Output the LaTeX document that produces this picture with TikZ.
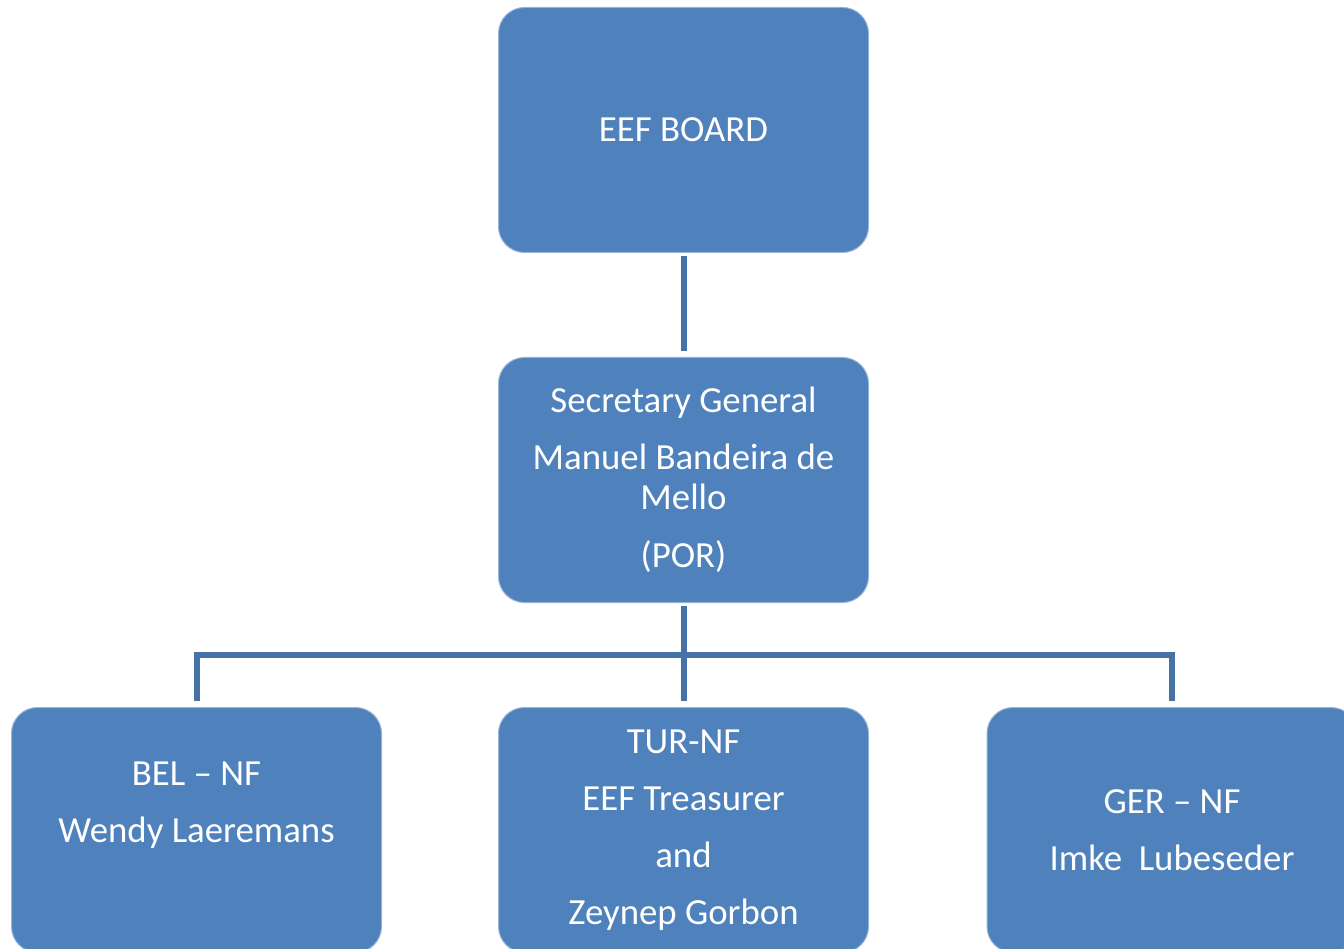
\documentclass[tikz,border=0pt]{standalone}
\usepackage{fontspec}
\setmainfont{Carlito}
\definecolor{boxblue}{RGB}{79,129,189}
\definecolor{lineblue}{RGB}{70,114,167}
\definecolor{edgeblue}{RGB}{150,180,218}
\begin{document}
\begin{tikzpicture}[x=1pt,y=-1pt,
  box/.style={draw=edgeblue, line width=1pt, fill=boxblue, rounded corners=26pt,
    minimum width=370pt, minimum height=245pt, inner sep=0pt, text=white,
    align=center, font=\fontsize{36.8pt}{40pt}\selectfont},
  conn/.style={draw=lineblue, line width=6pt}]
\useasboundingbox (0,0) rectangle (1344,949);
\node[box] (top) at (683.5,130) {EEF BOARD};
\node[box] (sec) at (683.5,480) {Secretary General\\[17pt]Manuel Bandeira de\\Mello\\[18pt](POR)};
\node[box] (bel) at (196.5,830) {BEL -- NF\\[17pt]Wendy Laeremans\\[4pt]\strut};
\node[box] (tur) at (683.5,830) {TUR-NF\\[17pt]EEF Treasurer\\[17pt]and\\[17pt]Zeynep Gorbon};
\node[box] (ger) at (1172,830) {GER -- NF\\[17pt]Imke\ \ Lubeseder};
\coordinate (bus) at (683.5,655);
\draw[conn, shorten <=3pt, shorten >=6pt] (top.south) -- (sec.north);
\draw[conn, shorten <=3pt, shorten >=6pt] (sec.south) -- (tur.north);
\draw[conn, shorten <=6pt, shorten >=6pt] (bel.north) |- (bus) -| (ger.north);
\end{tikzpicture}
\end{document}
